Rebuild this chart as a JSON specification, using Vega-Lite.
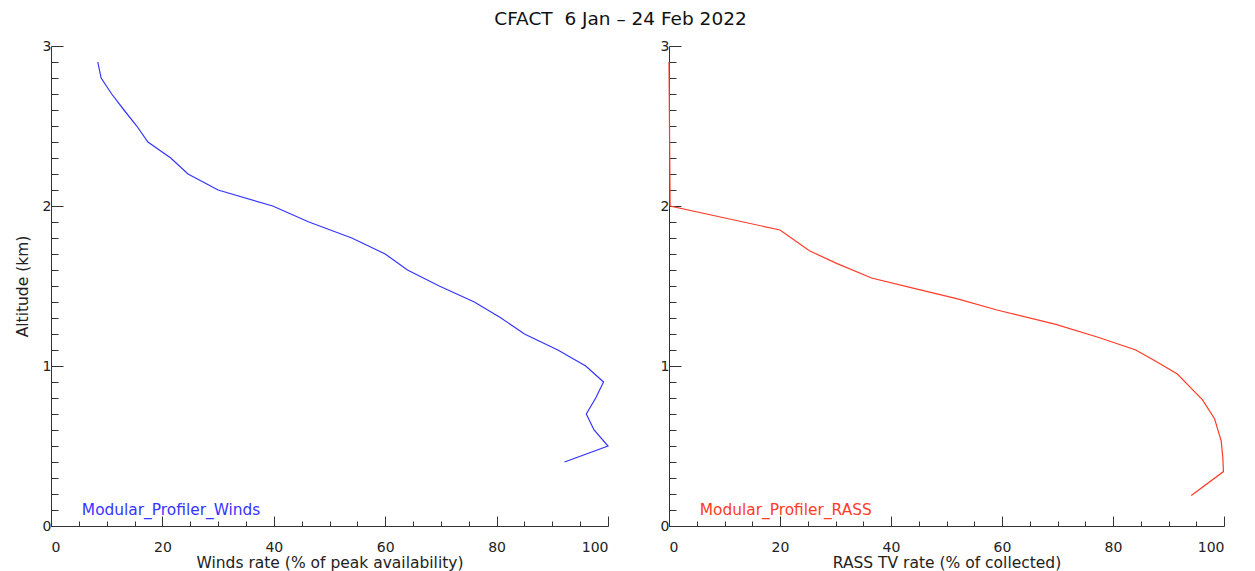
{
  "$schema": "https://vega.github.io/schema/vega-lite/v6.json",
  "background": "white",
  "padding": {"left": 15, "top": 9, "right": 5, "bottom": 1},
  "title": {"text": "CFACT\u00a0\u00a06 Jan – 24 Feb 2022", "fontSize": 18.5, "fontWeight": "normal", "font": "DejaVu Sans", "color": "#111", "anchor": "middle", "offset": 11},
  "spacing": 49,
  "datasets": {
    "winds": [
      {"alt": 2.9, "rate": 8.4}, {"alt": 2.8, "rate": 9.0}, {"alt": 2.7, "rate": 10.9},
      {"alt": 2.6, "rate": 13.1}, {"alt": 2.5, "rate": 15.4}, {"alt": 2.4, "rate": 17.4},
      {"alt": 2.3, "rate": 21.5}, {"alt": 2.2, "rate": 24.6}, {"alt": 2.1, "rate": 30.0},
      {"alt": 2.0, "rate": 39.8}, {"alt": 1.9, "rate": 46.3}, {"alt": 1.8, "rate": 54.0},
      {"alt": 1.7, "rate": 60.0}, {"alt": 1.6, "rate": 64.0}, {"alt": 1.5, "rate": 69.7},
      {"alt": 1.4, "rate": 76.0}, {"alt": 1.3, "rate": 80.8}, {"alt": 1.2, "rate": 85.0},
      {"alt": 1.1, "rate": 91.0}, {"alt": 1.0, "rate": 96.0}, {"alt": 0.9, "rate": 99.2},
      {"alt": 0.8, "rate": 97.8}, {"alt": 0.7, "rate": 96.1}, {"alt": 0.6, "rate": 97.5},
      {"alt": 0.5, "rate": 100.0}, {"alt": 0.4, "rate": 92.2}
    ],
    "rass": [
      {"alt": 2.9, "rate": 0}, {"alt": 2.0, "rate": 0.2}, {"alt": 1.85, "rate": 20.0},
      {"alt": 1.72, "rate": 25.3}, {"alt": 1.64, "rate": 30.3}, {"alt": 1.55, "rate": 36.5},
      {"alt": 1.49, "rate": 43.6}, {"alt": 1.42, "rate": 52.0}, {"alt": 1.35, "rate": 59.1},
      {"alt": 1.26, "rate": 69.7}, {"alt": 1.18, "rate": 77.3}, {"alt": 1.10, "rate": 84.1},
      {"alt": 1.03, "rate": 87.7}, {"alt": 0.95, "rate": 91.6}, {"alt": 0.86, "rate": 94.1},
      {"alt": 0.79, "rate": 96.1}, {"alt": 0.67, "rate": 98.3}, {"alt": 0.53, "rate": 99.5},
      {"alt": 0.42, "rate": 99.8}, {"alt": 0.34, "rate": 99.9}, {"alt": 0.19, "rate": 94.1}
    ]
  },
  "hconcat": [
    {
      "width": 557, "height": 480,
      "encoding": {
        "x": {"field": "rate", "type": "quantitative", "scale": {"domain": [0, 100], "nice": false, "zero": false},
          "axis": {"title": "Winds rate (% of peak availability)", "format": "d",
            "values": [0,5,10,15,20,25,30,35,40,45,50,55,60,65,70,75,80,85,90,95,100],
            "labelExpr": "datum.value % 20 === 0 ? datum.label : ''",
            "tickSize": {"condition": {"test": "datum.value % 20 === 0", "value": -10}, "value": -5},
            "labelPadding": 24, "titlePadding": 1}},
        "y": {"field": "alt", "type": "quantitative", "scale": {"domain": [0, 3], "nice": false, "zero": false},
          "axis": {"title": "Altitude (km)", "format": "~g",
            "values": [0,0.1,0.2,0.3,0.4,0.5,0.6,0.7,0.8,0.9,1,1.1,1.2,1.3,1.4,1.5,1.6,1.7,1.8,1.9,2,2.1,2.2,2.3,2.4,2.5,2.6,2.7,2.8,2.9,3],
            "labelExpr": "datum.value % 1 === 0 ? datum.label : ''",
            "tickSize": {"condition": {"test": "datum.value % 1 === 0", "value": -12}, "value": -7},
            "labelPadding": 12, "titlePadding": 12}}
      },
      "layer": [
        {"data": {"name": "winds"}, "mark": {"type": "line", "color": "#3535ff", "strokeWidth": 1.2},
          "encoding": {"order": {"field": "alt", "type": "quantitative"}}},
        {"data": {"values": [{"rate": 5, "alt": 0.1, "label": "Modular_Profiler_Winds"}]},
          "mark": {"type": "text", "align": "left", "baseline": "middle", "dx": 3, "color": "#3535ff", "fontSize": 15.4, "font": "DejaVu Sans"},
          "encoding": {"text": {"field": "label"}}}
      ]
    },
    {
      "width": 555, "height": 480,
      "encoding": {
        "x": {"field": "rate", "type": "quantitative", "scale": {"domain": [0, 100], "nice": false, "zero": false},
          "axis": {"title": "RASS TV rate (% of collected)", "format": "d",
            "values": [0,5,10,15,20,25,30,35,40,45,50,55,60,65,70,75,80,85,90,95,100],
            "labelExpr": "datum.value % 20 === 0 ? datum.label : ''",
            "tickSize": {"condition": {"test": "datum.value % 20 === 0", "value": -10}, "value": -5},
            "labelPadding": 24, "titlePadding": 1}},
        "y": {"field": "alt", "type": "quantitative", "scale": {"domain": [0, 3], "nice": false, "zero": false},
          "axis": {"title": null, "format": "~g",
            "values": [0,0.1,0.2,0.3,0.4,0.5,0.6,0.7,0.8,0.9,1,1.1,1.2,1.3,1.4,1.5,1.6,1.7,1.8,1.9,2,2.1,2.2,2.3,2.4,2.5,2.6,2.7,2.8,2.9,3],
            "labelExpr": "datum.value % 1 === 0 ? datum.label : ''",
            "tickSize": {"condition": {"test": "datum.value % 1 === 0", "value": -12}, "value": -7},
            "labelPadding": 12}}
      },
      "layer": [
        {"data": {"name": "rass"}, "mark": {"type": "line", "color": "#ff3c28", "strokeWidth": 1.2},
          "encoding": {"order": {"field": "alt", "type": "quantitative"}}},
        {"data": {"values": [{"rate": 5, "alt": 0.1, "label": "Modular_Profiler_RASS"}]},
          "mark": {"type": "text", "align": "left", "baseline": "middle", "dx": 3, "color": "#ff3c28", "fontSize": 15.4, "font": "DejaVu Sans"},
          "encoding": {"text": {"field": "label"}}}
      ]
    }
  ],
  "config": {
    "view": {"stroke": null},
    "axis": {"grid": false, "domainColor": "#333", "tickColor": "#333", "labelColor": "#222", "titleColor": "#222",
      "labelFont": "DejaVu Sans", "titleFont": "DejaVu Sans", "labelFontSize": 14, "titleFontSize": 15.5, "titleFontWeight": "normal"}
  }
}
